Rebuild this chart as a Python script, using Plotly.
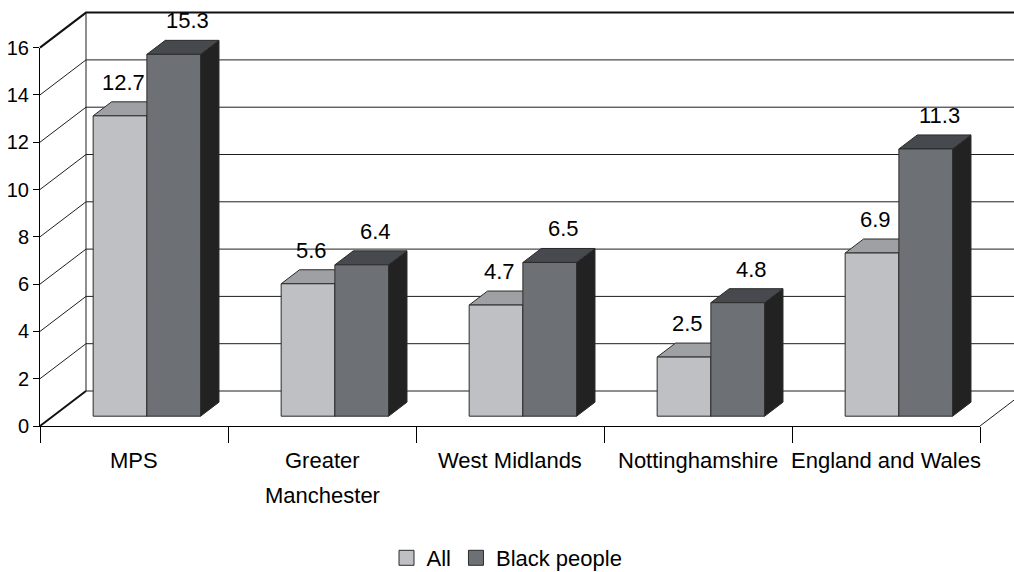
import plotly.graph_objects as go

# ---- data -------------------------------------------------------------
CATEGORIES = ["MPS", "Greater\nManchester", "West Midlands", "Nottinghamshire", "England and Wales"]
SERIES_NAMES = ["All", "Black people"]
ALL = [12.7, 5.6, 4.7, 2.5, 6.9]
BLACK = [15.3, 6.4, 6.5, 4.8, 11.3]
Y_TICKS = [0, 2, 4, 6, 8, 10, 12, 14, 16]

# ---- geometry / style ------------------------------------------------
W, H = 1014, 572
PX_PER_CAT = 188.0          # pixels per category slot on the front plane
PX_PER_VAL = 23.65          # pixels per value unit
ORIGIN_X, ORIGIN_Y = 40, 426  # pixel position of the front-left floor corner
WALL_DX = 46 / PX_PER_CAT   # oblique depth of the walls (category units)
WALL_DY = 35 / PX_PER_VAL   # oblique depth of the walls (value units)
BAR_W = 1 / 3.5             # bar width (gap width 150%)
D0, D1 = 0.28, 0.68         # depth span of the bars as a fraction of the wall depth

FONT = "Arial, 'Liberation Sans', sans-serif"
EDGE = "#2b2b2b"
FACE = {
    "All": dict(front="#BFC0C4", top="#9EA0A4", side="#5C5E62", label_dx=-6),
    "Black people": dict(front="#6D7075", top="#46494D", side="#222222", label_dx=5),
}

n = len(CATEGORIES)
y_max = Y_TICKS[-1]
x_lo, x_hi = -0.5, n - 0.5

fig = go.Figure()


def add_lines(xs, ys, width, color):
    fig.add_trace(go.Scatter(x=xs, y=ys, mode="lines", hoverinfo="skip", showlegend=False,
                             line=dict(color=color, width=width)))


# ---- walls and floor ---------------------------------------------------
gx, gy = [], []
for t in Y_TICKS[:-1]:
    # back-wall gridline
    gx += [x_lo + WALL_DX, x_hi + WALL_DX, None]
    gy += [t + WALL_DY, t + WALL_DY, None]
    if t > 0:
        # side-wall gridline
        gx += [x_lo, x_lo + WALL_DX, None]
        gy += [t, t + WALL_DY, None]
# back-left vertical edge of the wall
gx += [x_lo + WALL_DX, x_lo + WALL_DX, None]
gy += [WALL_DY, y_max + WALL_DY, None]
# right floor edge
gx += [x_hi, x_hi + WALL_DX, None]
gy += [0, WALL_DY, None]
add_lines(gx, gy, 1, "#1e1e1e")

# heavier wall borders: floor-left slant, top slant and top back edge
bx = [x_lo, x_lo + WALL_DX, None, x_lo, x_lo + WALL_DX, x_hi + WALL_DX]
by = [0, WALL_DY, None, y_max, y_max + WALL_DY, y_max + WALL_DY]
add_lines(bx, by, 2, "#111111")

# ---- 3D bars -----------------------------------------------------------
ox, oy = D0 * WALL_DX, D0 * WALL_DY
kx, ky = D1 * WALL_DX, D1 * WALL_DY

annotations = []
for s, (name, values) in enumerate(zip(SERIES_NAMES, [ALL, BLACK])):
    style = FACE[name]
    fxs, fys, txs, tys, sxs, sys_ = [], [], [], [], [], []
    for i, v in enumerate(values):
        xl = i - BAR_W + s * BAR_W
        xr = xl + BAR_W
        # front face
        fxs += [xl + ox, xr + ox, xr + ox, xl + ox, xl + ox, None]
        fys += [oy, oy, v + oy, v + oy, oy, None]
        # top face
        txs += [xl + ox, xr + ox, xr + kx, xl + kx, xl + ox, None]
        tys += [v + oy, v + oy, v + ky, v + ky, v + oy, None]
        # right side face
        sxs += [xr + ox, xr + kx, xr + kx, xr + ox, xr + ox, None]
        sys_ += [oy, ky, v + ky, v + oy, oy, None]
        # value label above the bar
        annotations.append(dict(
            x=(xl + xr) / 2 + (ox + kx) / 2, y=v + ky, xref="x", yref="y",
            text=f"{v}", showarrow=False, xanchor="center", yanchor="bottom",
            xshift=style["label_dx"], yshift=5,
            font=dict(family=FONT, size=22, color="#000000")))
    for xs, ys, col in [(sxs, sys_, style["side"]), (txs, tys, style["top"]), (fxs, fys, style["front"])]:
        fig.add_trace(go.Scatter(x=xs, y=ys, mode="lines", fill="toself", fillcolor=col,
                                 line=dict(color=EDGE, width=1), hoverinfo="skip",
                                 showlegend=False))

# legend swatches
for name in SERIES_NAMES:
    fig.add_trace(go.Scatter(x=[None], y=[None], mode="markers", name=name,
                             marker=dict(symbol="square", size=15, color=FACE[name]["front"],
                                         line=dict(color=EDGE, width=1))))

# front axes frame (value axis + category axis with boundary ticks)
fig.add_trace(go.Scatter(x=[], y=[], xaxis="x2", yaxis="y2", showlegend=False, hoverinfo="skip"))

# category labels under the front floor edge
for i, label in enumerate(CATEGORIES):
    for k, line in enumerate(label.split("\n")):
        annotations.append(dict(
            x=i, y=0, xref="x", yref="y", text=line, showarrow=False,
            xanchor="center", yanchor="middle", yshift=-(34 + 35 * k),
            font=dict(family=FONT, size=22, color="#000000")))

front_bottom = (H - ORIGIN_Y) / H
front_top = (H - ORIGIN_Y + y_max * PX_PER_VAL) / H
front_left = ORIGIN_X / W
front_right = (ORIGIN_X + n * PX_PER_CAT) / W

fig.update_layout(
    width=W, height=H,
    margin=dict(l=0, r=0, t=0, b=0, autoexpand=False),
    paper_bgcolor="#ffffff", plot_bgcolor="rgba(0,0,0,0)",
    hovermode=False,
    font=dict(family=FONT, color="#000000"),
    xaxis=dict(visible=False, domain=[0, 1],
               range=[-0.5 - ORIGIN_X / PX_PER_CAT, -0.5 + (W - ORIGIN_X) / PX_PER_CAT]),
    yaxis=dict(visible=False, domain=[0, 1],
               range=[-(H - ORIGIN_Y) / PX_PER_VAL, ORIGIN_Y / PX_PER_VAL]),
    xaxis2=dict(domain=[front_left, front_right], anchor="y2", range=[x_lo, x_hi],
                tickvals=[i - 0.5 for i in range(n + 1)], showticklabels=False,
                ticks="outside", ticklen=16, tickcolor="#000000", tickwidth=1,
                showline=True, linecolor="#000000", linewidth=1,
                showgrid=False, zeroline=False, automargin=False),
    yaxis2=dict(domain=[front_bottom, front_top], anchor="x2", range=[0, y_max],
                tickvals=Y_TICKS, ticks="outside", ticklen=6, tickcolor="#000000",
                showline=True, linecolor="#000000", linewidth=1,
                showgrid=False, zeroline=False, automargin=False,
                tickfont=dict(family=FONT, size=20, color="#000000")),
    legend=dict(orientation="h", x=0.5, xanchor="center", y=14 / H, yanchor="middle",
                font=dict(family=FONT, size=22, color="#000000"),
                bgcolor="rgba(0,0,0,0)", itemclick=False, itemdoubleclick=False),
    annotations=annotations,
    showlegend=True,
)

fig.write_html("out.html")
